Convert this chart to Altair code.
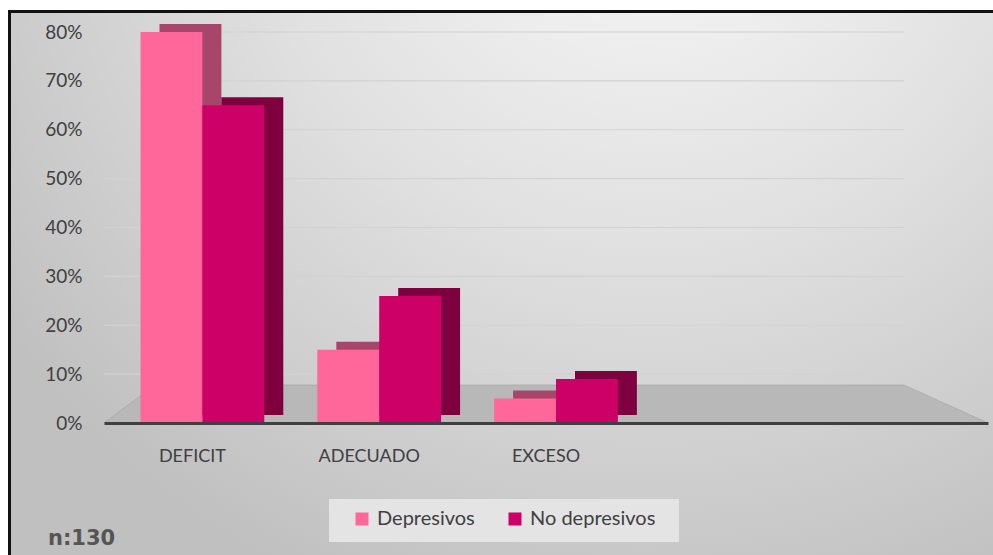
import altair as alt
import pandas as pd

# ---- data ----
categories = ["DEFICIT", "ADECUADO", "EXCESO"]
series = ["Depresivos", "No depresivos"]
depresivos = [0.80, 0.15, 0.05]
no_depresivos = [0.65, 0.26, 0.09]
y_ticks = [0.0, 0.1, 0.2, 0.3, 0.4, 0.5, 0.6, 0.7, 0.8]
n_label = "n:130"

front_colors = ["#FF6699", "#CC0066"]
side_colors = ["#A8456A", "#7F003F"]

rows = []
for i, c in enumerate(categories):
    rows.append({"cat": c, "serie": series[0], "valor": depresivos[i], "side": side_colors[0]})
    rows.append({"cat": c, "serie": series[1], "valor": no_depresivos[i], "side": side_colors[1]})
df = pd.DataFrame(rows)
grid_df = pd.DataFrame({"valor": y_ticks[1:]})
one = pd.DataFrame({"a": [0]})

W, H = 884, 391
FONT = "Lato"
GROUP_W = 176.8 * 0.7
SHIFT = 10
DEPTH_X = 19

x_domain = categories + [" ", "  "]
x_enc = alt.X(
    "cat:N",
    title=None,
    scale=alt.Scale(domain=x_domain, paddingInner=0.3, paddingOuter=0.15),
    axis=alt.Axis(labelFont=FONT, labelFontSize=18, labelColor="#404040", labelPadding=24,
                  ticks=False, domainColor="#404040", domainWidth=3, grid=False,
                  labelAngle=0, zindex=1),
)
y_enc = alt.Y(
    "valor:Q",
    title=None,
    scale=alt.Scale(domain=[0, 0.8], nice=False),
    axis=alt.Axis(values=y_ticks, format=".0%", labelFont=FONT, labelFontSize=19,
                  labelColor="#404040", labelPadding=22, ticks=False, domain=False,
                  grid=False, zindex=1),
)

bg_gradient = {
    "gradient": "radial",
    "x1": 0.64, "y1": 0.06, "r1": 0.0,
    "x2": 0.64, "y2": 0.06, "r2": 0.8,
    "stops": [
        {"offset": 0.0, "color": "#fafafa"},
        {"offset": 0.5, "color": "#e0e0e0"},
        {"offset": 1.0, "color": "#c0c0c0"},
    ],
}

background = alt.Chart(one).mark_rect(fill=bg_gradient, stroke="#111111", strokeWidth=3).encode(
    x=alt.value(-94.5), x2=alt.value(W + 20), y=alt.value(-20.5), y2=alt.value(H + 150)
)

floor_path = "M0,0.391L0.051,0.353L0.8,0.353L0.884,0.391Z"
floor = alt.Chart(one).mark_point(
    shape=floor_path, size=4000000, filled=True, fill="#B8B8B8", opacity=1,
    stroke="#9a9a9a", strokeWidth=0.5
).encode(x=alt.value(0), y=alt.value(0))

grid = alt.Chart(grid_df).mark_rule(color="#d2d2d2", strokeWidth=1.2).encode(
    y=y_enc, x=alt.value(0), x2=alt.value(800)
)

side = alt.Chart(df).mark_bar(yOffset=-8, y2Offset=-8).encode(
    x=x_enc,
    xOffset=alt.XOffset("serie:N", scale=alt.Scale(domain=series,
                                                   range=[SHIFT + DEPTH_X, SHIFT + DEPTH_X + GROUP_W])),
    y=y_enc,
    color=alt.Color("side:N", scale=None),
)

front = alt.Chart(df).mark_bar().encode(
    x=x_enc,
    xOffset=alt.XOffset("serie:N", scale=alt.Scale(domain=series, range=[SHIFT, SHIFT + GROUP_W])),
    y=y_enc,
    color=alt.Color(
        "serie:N",
        scale=alt.Scale(domain=series, range=front_colors),
        legend=alt.Legend(orient="none", legendX=248, legendY=477, direction="horizontal",
                          title=None, symbolType="square", symbolSize=169, symbolStrokeWidth=0,
                          labelFont=FONT, labelFontSize=20, labelColor="#404040",
                          columnPadding=30, labelOffset=5, padding=0, zindex=1),
    ),
)

bars = alt.layer(side, front).resolve_scale(xOffset="independent")

legend_box = alt.Chart(one).mark_rect(fill="#e4e4e4").encode(
    x=alt.value(225), x2=alt.value(575), y=alt.value(467), y2=alt.value(510)
)

ntext = alt.Chart(one).mark_text(
    font="DejaVu Sans", fontWeight="bold", fontSize=21, color="#555555",
    align="left", baseline="middle"
).encode(x=alt.value(-56), y=alt.value(507), text=alt.value(n_label))

chart = alt.layer(background, floor, grid, bars, legend_box, ntext).resolve_scale(
    xOffset="independent"
).properties(
    width=W, height=H,
    autosize=alt.AutoSizeParams(type="none"),
    padding={"left": 104, "top": 32, "right": 5, "bottom": 132},
).configure_view(stroke=None).configure(background="white")

chart.save("out.html", embed_options={"renderer": "svg", "actions": False})
